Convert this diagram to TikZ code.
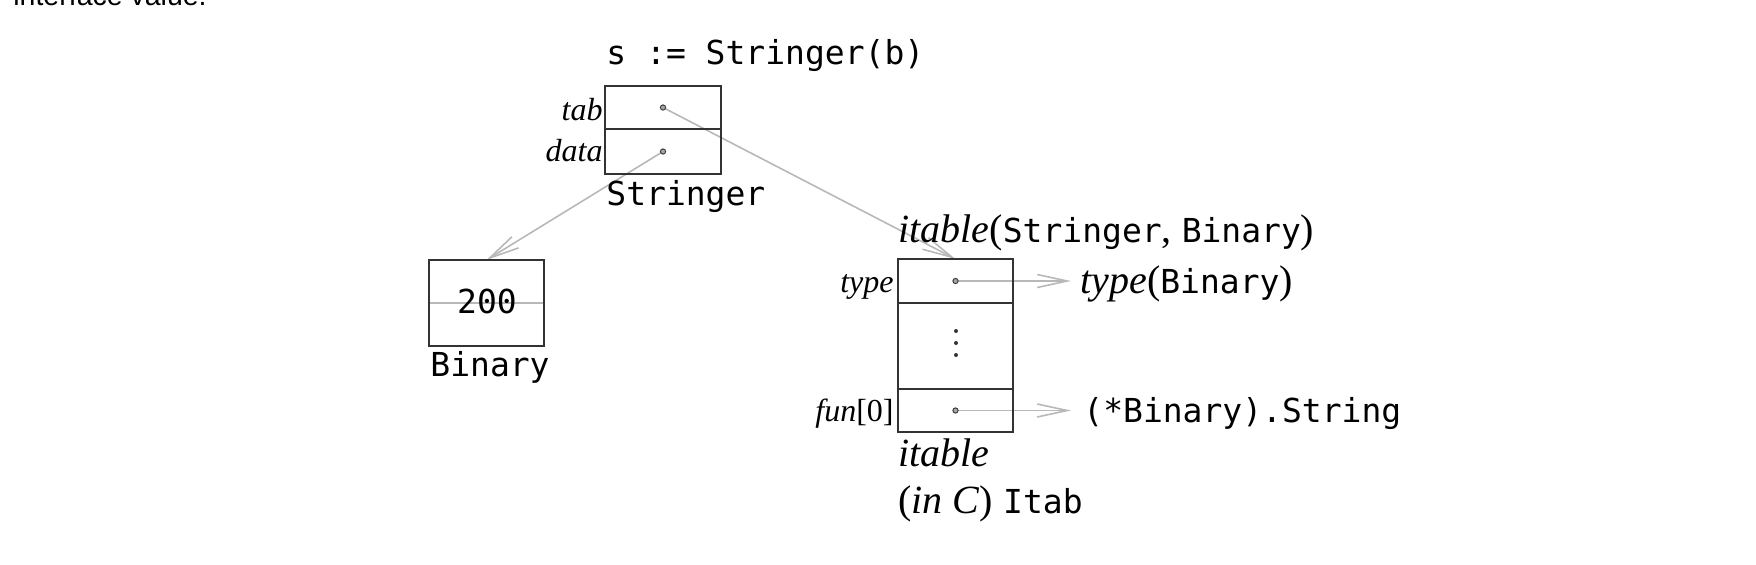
\documentclass[tikz,border=0pt]{standalone}
\usepackage{fontspec}
\setmainfont{Liberation Serif}
\setmonofont{DejaVu Sans Mono}
\newfontfamily\bodysans{Liberation Sans}
\usetikzlibrary{arrows.meta}
\pgfdeclarelayer{bg}
\pgfsetlayers{bg,main}
\newcommand\mt[1]{{\ttfamily\fontsize{16.5}{20}\selectfont #1}}
\tikzset{
  cell/.style={draw=black!80, line width=1pt, inner sep=0pt, outer sep=0pt},
  tt/.style={font=\ttfamily\fontsize{16.5}{20}\selectfont, inner sep=0pt},
  big/.style={font=\fontsize{20}{24}\selectfont, inner sep=0pt},
  lab/.style={font=\fontsize{16}{19}\selectfont, inner sep=0pt},
  conn/.style={draw=black!28, line width=0.8pt},
  arr/.style={conn, -{Straight Barb[length=15pt,width=6.5pt]}},
  ptr/.style={circle, inner sep=0pt, minimum size=2.6pt, draw=black!75, fill=black!35, line width=0.5pt},
  vdot/.style={circle, inner sep=0pt, minimum size=2pt, fill=black!80},
}
\begin{document}
\begin{tikzpicture}[x=0.5pt,y=-0.5pt]
\useasboundingbox (0,0) rectangle (1756,564);
\clip (0,0) rectangle (1756,564);

% cut-off text of the page above the figure
\node[font=\bodysans\fontsize{14.25}{17}\selectfont, inner sep=0pt, anchor=base west] (intro) at (13,5.5) {interface value.};

% Stringer interface value
\node[tt, anchor=base west] (decl) at (606,64) {s := Stringer(b)};
\node[cell, minimum width=58pt, minimum height=21.5pt] (tabrow) at (663,107.5) {};
\node[cell, minimum width=58pt, minimum height=22.5pt] (datarow) at (663,151.5) {};
\node[lab, anchor=base east] (tablab) at (603,120) {\textit{tab}};
\node[lab, anchor=base east] (datalab) at (603,161) {\textit{data}};
\node[tt, anchor=base west] (strname) at (606,205) {Stringer};

% Binary value
\node[cell, minimum width=57.5pt, minimum height=43pt] (binbox) at (486.5,303) {};
\node[tt, anchor=base] (val) at (487,313) {200};
\node[tt, anchor=base west] (binname) at (430,376) {Binary};

% itable
\node[big, anchor=base west] (ittitle) at (898,242) {\textit{itable}(\mt{Stringer}, \mt{Binary})};
\node[cell, minimum width=57.5pt, minimum height=22pt] (typerow) at (955.5,281) {};
\node[cell, minimum width=57.5pt, minimum height=43pt] (midrow) at (955.5,346) {};
\node[cell, minimum width=57.5pt, minimum height=21.5pt] (funrow) at (955.5,410.5) {};
\node[lab, anchor=base east] (typelab) at (894,292) {\textit{type}};
\node[lab, anchor=base east] (funlab) at (894,421) {\textit{fun}[0]};
\node[vdot] (vd1) at (956,331) {};
\node[vdot] (vd2) at (956,343) {};
\node[vdot] (vd3) at (956,355) {};
\node[big, anchor=base west] (itname) at (898,466) {\textit{itable}};
\node[big, anchor=base west] (itcname) at (898,513) {(\textit{in C}) \mt{Itab}};

% targets
\node[big, anchor=base west] (typetxt) at (1080,293) {\textit{type}(\mt{Binary})};
\node[tt, anchor=base west] (funtxt) at (1083,422) {(*Binary).String};

\coordinate (tabp) at (tabrow.center);
\coordinate (datap) at (datarow.center);
\coordinate (typep) at (typerow.center);
\coordinate (funp) at (funrow.center);
\coordinate (typetip) at (1071,281);
\coordinate (funtip) at (1071,410.5);

\begin{pgfonlayer}{bg}
  \draw[conn] (binbox.west) -- (binbox.east);
  \draw[arr] (tabp) -- (typerow.north);
  \draw[arr] (datap) -- (binbox.north);
  \draw[arr] (typep) -- (typetip);
  \draw[arr] (funp) -- (funtip);
\end{pgfonlayer}

\node[ptr] (tabdot) at (tabp) {};
\node[ptr] (datadot) at (datap) {};
\node[ptr] (typedot) at (typep) {};
\node[ptr] (fundot) at (funp) {};
\end{tikzpicture}
\end{document}
